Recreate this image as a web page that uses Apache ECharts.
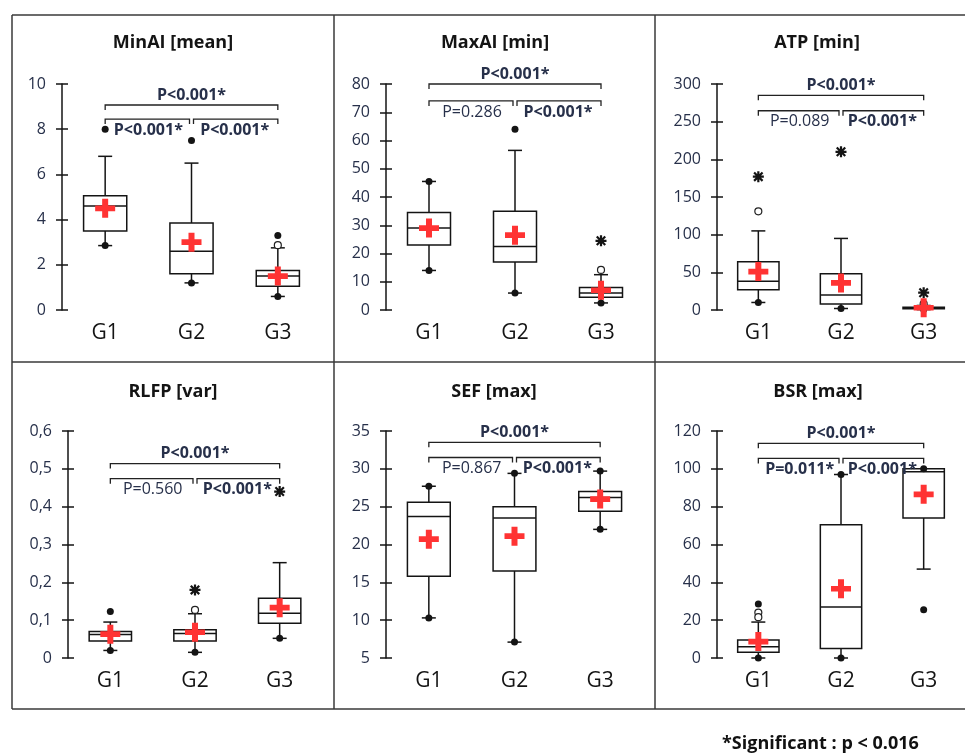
<!DOCTYPE html>
<html><head><meta charset="utf-8">
<script src="https://cdn.jsdelivr.net/npm/echarts@6/dist/echarts.min.js"></script>
<style>html,body{margin:0;padding:0;background:#fff}#c{width:965px;height:753px}</style>
</head><body><div id="c"></div>
<script>
const groups = ['G1', 'G2', 'G3'];
const titles = ['MinAI [mean]', 'MaxAI [min]', 'ATP [min]', 'RLFP [var]', 'SEF [max]', 'BSR [max]'];
const footnote = '*Significant : p < 0.016';

// box = [whisker low, Q1, median, Q3, whisker high] per group
const minaiBox = [[2.85, 3.5, 4.6, 5.05, 6.8], [1.2, 1.6, 2.6, 3.85, 6.5], [0.6, 1.05, 1.5, 1.75, 2.75]];
const minaiMean = [4.5, 3.0, 1.5];
const minaiDots = [[0, 2.85], [0, 8.0], [1, 1.2], [1, 7.5], [2, 0.6], [2, 3.3]];
const minaiHollow = [[2, 2.87]];
const minaiExtreme = [];
const minaiP = ['P<0.001*', 'P<0.001*', 'P<0.001*'];
const minaiBracketY = [9.07, 8.45];

const maxaiBox = [[14, 23, 29, 34.5, 45.5], [6, 17, 22.5, 35, 56.5], [2.5, 4.5, 6, 8, 12.5]];
const maxaiMean = [29, 26.5, 7];
const maxaiDots = [[0, 14], [0, 45.5], [1, 6], [1, 64], [2, 2.5]];
const maxaiHollow = [[2, 14.2]];
const maxaiExtreme = [[2, 24.5]];
const maxaiP = ['P<0.001*', 'P=0.286', 'P<0.001*'];
const maxaiBracketY = [80, 74];

const atpBox = [[10, 27, 38, 64, 105], [2, 8, 20, 48, 95], [0.5, 1.5, 2.5, 3.5, 6]];
const atpMean = [51, 36, 3];
const atpDots = [[0, 10], [1, 2], [2, 0.5]];
const atpHollow = [[0, 131], [2, 8]];
const atpExtreme = [[0, 177], [1, 210], [2, 23]];
const atpP = ['P<0.001*', 'P=0.089', 'P<0.001*'];
const atpBracketY = [285, 264.5];

const rlfpBox = [[0.02, 0.045, 0.062, 0.07, 0.095], [0.015, 0.045, 0.065, 0.075, 0.117], [0.052, 0.092, 0.118, 0.158, 0.252]];
const rlfpMean = [0.063, 0.068, 0.133];
const rlfpDots = [[0, 0.02], [0, 0.123], [1, 0.015], [2, 0.052]];
const rlfpHollow = [[1, 0.127]];
const rlfpExtreme = [[1, 0.18], [2, 0.44]];
const rlfpP = ['P<0.001*', 'P=0.560', 'P<0.001*'];
const rlfpBracketY = [0.514, 0.474];

const sefBox = [[10.3, 15.8, 23.7, 25.6, 27.7], [7.1, 16.5, 23.5, 25, 29.4], [22, 24.4, 26.2, 27, 29.7]];
const sefMean = [20.7, 21.1, 26];
const sefDots = [[0, 10.3], [0, 27.7], [1, 7.1], [1, 29.4], [2, 22], [2, 29.7]];
const sefHollow = [];
const sefExtreme = [];
const sefP = ['P<0.001*', 'P=0.867', 'P<0.001*'];
const sefBracketY = [33.5, 31.5];

const bsrBox = [[0, 3, 6, 9.5, 19], [0, 5, 27, 70.5, 97], [47, 74, 98.5, 100, 100]];
const bsrMean = [8.7, 36.6, 86.5];
const bsrDots = [[0, 0], [0, 28.5], [1, 0], [1, 97], [2, 25.5], [2, 100]];
const bsrHollow = [[0, 24], [0, 21.6]];
const bsrExtreme = [];
const bsrP = ['P<0.001*', 'P=0.011*', 'P<0.001*'];
const bsrBracketY = [113.5, 105.5];

// y axis scales: [min, max, interval]
const minaiAxis = [0, 10, 2];
const maxaiAxis = [0, 80, 10];
const atpAxis = [0, 300, 50];
const rlfpAxis = [0, 0.6, 0.1];
const sefAxis = [5, 35, 5];
const bsrAxis = [0, 120, 20];

const FONT = '"Open Sans", Lato, sans-serif';
const INK = '#141414';
const LABEL = '#27304a';

const panels = [
  {box: minaiBox, mean: minaiMean, dots: minaiDots, hollow: minaiHollow, extreme: minaiExtreme, p: minaiP, by: minaiBracketY, axis: minaiAxis,
   grid: {left: 62, top: 84, width: 259, height: 226}, tx: 173, ty: 43},
  {box: maxaiBox, mean: maxaiMean, dots: maxaiDots, hollow: maxaiHollow, extreme: maxaiExtreme, p: maxaiP, by: maxaiBracketY, axis: maxaiAxis,
   grid: {left: 386, top: 84, width: 258, height: 226}, tx: 495, ty: 43},
  {box: atpBox, mean: atpMean, dots: atpDots, hollow: atpHollow, extreme: atpExtreme, p: atpP, by: atpBracketY, axis: atpAxis,
   grid: {left: 717, top: 84, width: 248, height: 226}, tx: 817, ty: 43},
  {box: rlfpBox, mean: rlfpMean, dots: rlfpDots, hollow: rlfpHollow, extreme: rlfpExtreme, p: rlfpP, by: rlfpBracketY, axis: rlfpAxis,
   grid: {left: 68, top: 431, width: 254, height: 227}, tx: 173, ty: 392, comma: true},
  {box: sefBox, mean: sefMean, dots: sefDots, hollow: sefHollow, extreme: sefExtreme, p: sefP, by: sefBracketY, axis: sefAxis,
   grid: {left: 386, top: 431, width: 257, height: 227}, tx: 494, ty: 392},
  {box: bsrBox, mean: bsrMean, dots: bsrDots, hollow: bsrHollow, extreme: bsrExtreme, p: bsrP, by: bsrBracketY, axis: bsrAxis,
   grid: {left: 717, top: 431, width: 249, height: 227}, tx: 818, ty: 392}
];

const PLUS = 'path://M7,0H13V7H20V13H13V20H7V13H0V7H7Z';
const STAR = 'path://M0,0L10,10M10,0L0,10M5,-1.5L5,11.5M-1.5,5L11.5,5';

function renderBox(params, api) {
  const k = api.value(0);
  const p = [1, 2, 3, 4, 5].map(d => api.coord([k, api.value(d)]));
  const cx = p[0][0];
  const bw = api.size([1, 0])[0] * 0.5;
  const cap = 14;
  const st = {stroke: INK, lineWidth: 1.5, fill: null};
  return {type: 'group', children: [
    {type: 'line', shape: {x1: cx, y1: p[0][1], x2: cx, y2: p[1][1]}, style: st},
    {type: 'line', shape: {x1: cx, y1: p[3][1], x2: cx, y2: p[4][1]}, style: st},
    {type: 'line', shape: {x1: cx - cap / 2, y1: p[0][1], x2: cx + cap / 2, y2: p[0][1]}, style: st},
    {type: 'line', shape: {x1: cx - cap / 2, y1: p[4][1], x2: cx + cap / 2, y2: p[4][1]}, style: st},
    {type: 'rect', shape: {x: cx - bw / 2, y: p[3][1], width: bw, height: p[1][1] - p[3][1]}, style: {stroke: INK, lineWidth: 1.5, fill: '#fff'}},
    {type: 'line', shape: {x1: cx - bw / 2, y1: p[2][1], x2: cx + bw / 2, y2: p[2][1]}, style: st}
  ]};
}

function makeBracket(labels) {
  return function (params, api) {
    const yTop = api.value(1), yLow = api.value(2);
    const a = api.coord([0, yTop]), b = api.coord([2, yTop]);
    const l0 = api.coord([0, yLow]), l1 = api.coord([1, yLow]), l2 = api.coord([2, yLow]);
    const t = 5, g = 2;
    const st = {stroke: '#222', lineWidth: 1.3, fill: null};
    const poly = (x1, x2, y) => ({type: 'polyline', shape: {points: [[x1, y + t], [x1, y], [x2, y], [x2, y + t]]}, style: st});
    const txt = (s, x, y, va) => ({type: 'text', style: {text: s, x: x, y: y, fill: LABEL, fontSize: 16,
      fontWeight: s.indexOf('*') >= 0 ? 'bold' : 'normal', fontFamily: FONT, align: 'center', verticalAlign: va}});
    return {type: 'group', children: [
      poly(a[0], b[0], a[1]),
      poly(l0[0], l1[0] - g, l0[1]),
      poly(l1[0] + g, l2[0], l0[1]),
      txt(labels[0], (a[0] + b[0]) / 2, a[1] - 2, 'bottom'),
      txt(labels[1], (l0[0] + l1[0]) / 2, l0[1] + 3, 'top'),
      txt(labels[2], (l1[0] + l2[0]) / 2, l0[1] + 3, 'top')
    ]};
  };
}

const option = {animation: false, grid: [], xAxis: [], yAxis: [], series: [], graphic: []};

panels.forEach((pn, i) => {
  option.grid.push(Object.assign({containLabel: false}, pn.grid));
  option.xAxis.push({type: 'category', gridIndex: i, data: groups,
    axisLine: {show: false}, axisTick: {show: false}, splitLine: {show: false},
    axisLabel: {margin: 13, fontSize: 21, color: INK, fontFamily: FONT}});
  const fmt = pn.comma ? (v => v === 0 ? '0' : v.toFixed(1).replace('.', ',')) : (v => String(v));
  option.yAxis.push({type: 'value', gridIndex: i, position: 'left', min: pn.axis[0], max: pn.axis[1], interval: pn.axis[2],
    axisLine: {show: true, lineStyle: {color: INK, width: 1.5}},
    axisTick: {show: true, length: 6, lineStyle: {color: INK, width: 1.5}},
    splitLine: {show: false},
    axisLabel: {margin: 16, fontSize: 16, color: LABEL, fontFamily: FONT, formatter: fmt}});
  option.yAxis.push({type: 'value', gridIndex: i, position: 'left', offset: 0, min: pn.axis[0], max: pn.axis[1], interval: pn.axis[2],
    axisLine: {show: false}, axisTick: {show: true, inside: true, length: 6, lineStyle: {color: INK, width: 1.5}},
    splitLine: {show: false}, axisLabel: {show: false}});
  const yi = 2 * i;
  option.series.push({type: 'custom', xAxisIndex: i, yAxisIndex: yi, z: 2,
    data: pn.box.map((b, k) => [k].concat(b)), renderItem: renderBox});
  option.series.push({type: 'custom', xAxisIndex: i, yAxisIndex: yi, z: 2,
    data: [[1, pn.by[0], pn.by[1]]], renderItem: makeBracket(pn.p)});
  option.series.push({type: 'scatter', xAxisIndex: i, yAxisIndex: yi, z: 4, symbol: 'circle', symbolSize: 7,
    itemStyle: {color: INK, opacity: 1}, data: pn.dots});
  option.series.push({type: 'scatter', xAxisIndex: i, yAxisIndex: yi, z: 4, symbol: 'circle', symbolSize: 7,
    itemStyle: {color: '#fff', borderColor: '#222', borderWidth: 1.2, opacity: 1}, data: pn.hollow});
  option.series.push({type: 'scatter', xAxisIndex: i, yAxisIndex: yi, z: 4, symbol: STAR, symbolSize: 11,
    itemStyle: {color: INK, borderColor: INK, borderWidth: 2.2, opacity: 1}, data: pn.extreme});
  option.series.push({type: 'scatter', xAxisIndex: i, yAxisIndex: yi, z: 5, symbol: PLUS, symbolSize: [20, 19],
    itemStyle: {color: '#ff3333', opacity: 1}, data: pn.mean.map((m, k) => [k, m])});
  option.graphic.push({type: 'text', x: pn.tx, y: pn.ty, style: {text: titles[i], fill: INK, fontSize: 18, fontWeight: 'bold',
    fontFamily: FONT, align: 'center', verticalAlign: 'middle'}});
});

const frame = {stroke: '#3a3a3a', lineWidth: 1.5};
[[12, 15, 965, 15], [12, 15, 12, 709], [12, 709, 965, 709], [12, 362, 965, 362], [334, 15, 334, 709], [655, 15, 655, 709]]
  .forEach(l => option.graphic.push({type: 'line', shape: {x1: l[0], y1: l[1], x2: l[2], y2: l[3]}, style: frame, z: 10}));
option.graphic.push({type: 'text', x: 722, y: 744, style: {text: footnote, fill: '#111', fontSize: 18, fontWeight: 'bold',
  fontFamily: FONT, align: 'left', verticalAlign: 'middle'}});

const chart = echarts.init(document.getElementById('c'), null, {renderer: 'canvas'});
chart.setOption(option);
</script>
</body></html>
